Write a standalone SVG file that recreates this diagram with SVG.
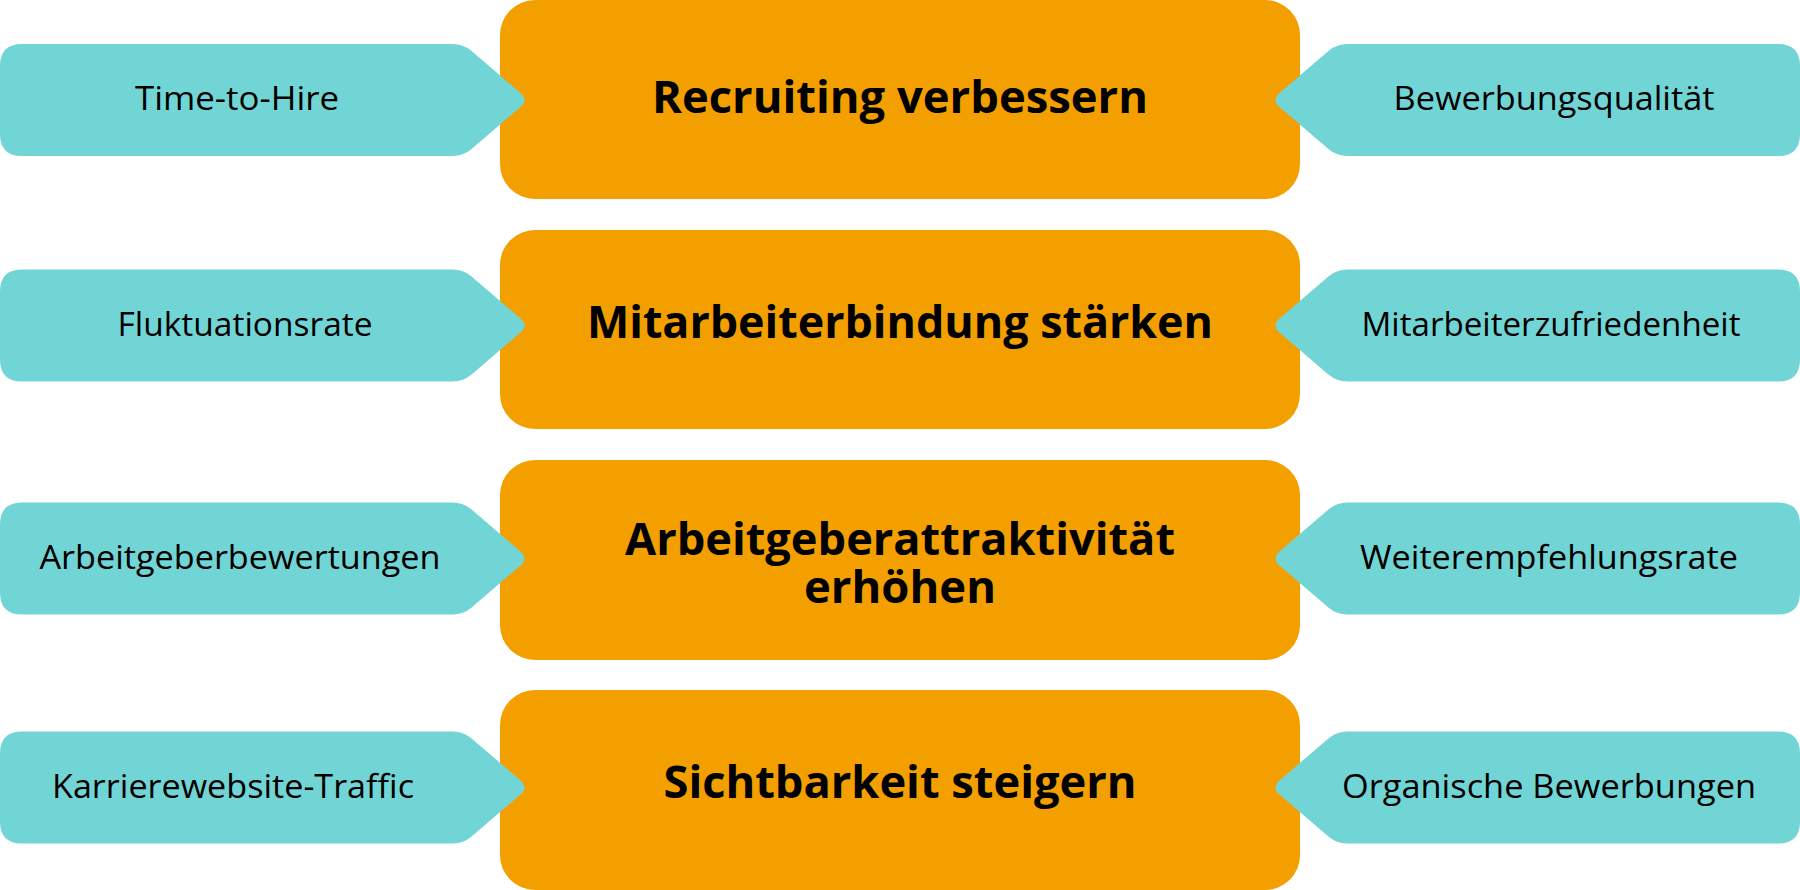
<svg xmlns="http://www.w3.org/2000/svg" xmlns:xlink="http://www.w3.org/1999/xlink" width="1800" height="890" viewBox="0 0 1800 890">
  <style>
    .goal { fill: #F39F00; }
    .kpi { fill: #72D5D5; }
    .title { font-family: "Open Sans", "Noto Sans", "Liberation Sans", sans-serif; font-weight: 700; font-size: 44px; fill: #000; text-anchor: middle; }
    .label { font-family: "Open Sans", "Noto Sans", "Liberation Sans", sans-serif; font-weight: 400; font-size: 32px; fill: #000; text-anchor: middle; }
  </style>
  <defs>
    <path id="tag" d="M 22 -56 H 453 Q 463 -56 471 -49.5 L 520 -7.5 Q 529 0 520 7.5 L 471 49.5 Q 463 56 453 56 H 22 Q 0 56 0 34 V -34 Q 0 -56 22 -56 Z"/>
  </defs>
  <rect width="1800" height="890" fill="#FFFFFF"/>

  <g id="goal-recruiting">
    <rect class="goal" x="500" y="0" width="800" height="199" rx="35" ry="35"/>
    <text class="title" x="900" y="113" textLength="496" lengthAdjust="spacingAndGlyphs">Recruiting verbessern</text>
  </g>
  <g id="goal-bindung">
    <rect class="goal" x="500" y="230" width="800" height="199" rx="35" ry="35"/>
    <text class="title" x="900" y="338" textLength="626" lengthAdjust="spacingAndGlyphs">Mitarbeiterbindung stärken</text>
  </g>
  <g id="goal-attraktivitaet">
    <rect class="goal" x="500" y="460" width="800" height="200" rx="35" ry="35"/>
    <text class="title"><tspan x="900" y="555" textLength="550" lengthAdjust="spacingAndGlyphs">Arbeitgeberattraktivität</tspan><tspan x="900" y="603" textLength="192" lengthAdjust="spacingAndGlyphs">erhöhen</tspan></text>
  </g>
  <g id="goal-sichtbarkeit">
    <rect class="goal" x="500" y="690" width="800" height="200" rx="35" ry="35"/>
    <text class="title" x="900" y="798" textLength="473" lengthAdjust="spacingAndGlyphs">Sichtbarkeit steigern</text>
  </g>

  <g id="kpi-time-to-hire">
    <use xlink:href="#tag" href="#tag" class="kpi" transform="translate(0,100)"/>
    <text class="label" x="237" y="110" textLength="204" lengthAdjust="spacingAndGlyphs">Time-to-Hire</text>
  </g>
  <g id="kpi-bewerbungsqualitaet">
    <use xlink:href="#tag" href="#tag" class="kpi" transform="translate(1800,100) scale(-1,1)"/>
    <text class="label" x="1554" y="110" textLength="321" lengthAdjust="spacingAndGlyphs">Bewerbungsqualität</text>
  </g>
  <g id="kpi-fluktuationsrate">
    <use xlink:href="#tag" href="#tag" class="kpi" transform="translate(0,325.5)"/>
    <text class="label" x="245" y="336" textLength="255" lengthAdjust="spacingAndGlyphs">Fluktuationsrate</text>
  </g>
  <g id="kpi-mitarbeiterzufriedenheit">
    <use xlink:href="#tag" href="#tag" class="kpi" transform="translate(1800,325.5) scale(-1,1)"/>
    <text class="label" x="1551" y="336" textLength="379" lengthAdjust="spacingAndGlyphs">Mitarbeiterzufriedenheit</text>
  </g>
  <g id="kpi-arbeitgeberbewertungen">
    <use xlink:href="#tag" href="#tag" class="kpi" transform="translate(0,558.5)"/>
    <text class="label" x="240" y="569" textLength="401" lengthAdjust="spacingAndGlyphs">Arbeitgeberbewertungen</text>
  </g>
  <g id="kpi-weiterempfehlungsrate">
    <use xlink:href="#tag" href="#tag" class="kpi" transform="translate(1800,558.5) scale(-1,1)"/>
    <text class="label" x="1549" y="569" textLength="378" lengthAdjust="spacingAndGlyphs">Weiterempfehlungsrate</text>
  </g>
  <g id="kpi-karrierewebsite-traffic">
    <use xlink:href="#tag" href="#tag" class="kpi" transform="translate(0,787.5)"/>
    <text class="label" x="233" y="798" textLength="362" lengthAdjust="spacingAndGlyphs">Karrierewebsite-Traffic</text>
  </g>
  <g id="kpi-organische-bewerbungen">
    <use xlink:href="#tag" href="#tag" class="kpi" transform="translate(1800,787.5) scale(-1,1)"/>
    <text class="label" x="1549" y="798" textLength="414" lengthAdjust="spacingAndGlyphs">Organische Bewerbungen</text>
  </g>

  <g id="connectors"/>
</svg>
